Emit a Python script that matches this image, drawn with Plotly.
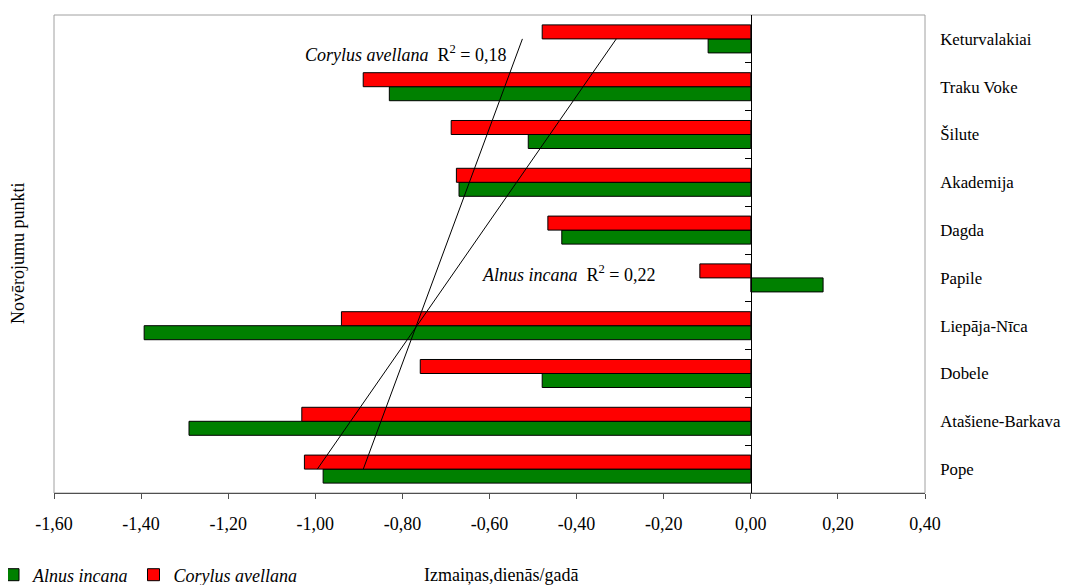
import numpy as np
import plotly.graph_objects as go

categories = ["Pope", "Atašiene-Barkava", "Dobele", "Liepāja-Nīca", "Papile",
              "Dagda", "Akademija", "Šilute", "Traku Voke", "Keturvalakiai"]
alnus = [-0.982, -1.290, -0.479, -1.393, 0.166, -0.434, -0.670, -0.511, -0.830, -0.098]
corylus = [-1.025, -1.031, -0.759, -0.940, -0.117, -0.466, -0.676, -0.688, -0.890, -0.479]
x_ticks = [-1.6, -1.4, -1.2, -1.0, -0.8, -0.6, -0.4, -0.2, 0.0, 0.2, 0.4]
x_ticktext = [("%.2f" % v).replace(".", ",") for v in x_ticks]
r2_alnus = "0,22"
r2_corylus = "0,18"

FONT = "Liberation Serif, Times New Roman, DejaVu Serif, serif"
FS = 18
idx = np.arange(1, len(categories) + 1)
fit_a = np.polyval(np.polyfit(idx, alnus, 1), idx)
fit_c = np.polyval(np.polyfit(idx, corylus, 1), idx)

fig = go.Figure()
fig.add_trace(go.Bar(y=categories, x=alnus, orientation="h", name="<i>Alnus incana</i>",
                     marker=dict(color="#008000", line=dict(color="black", width=1))))
fig.add_trace(go.Bar(y=categories, x=corylus, orientation="h", name="<i>Corylus avellana</i>",
                     marker=dict(color="#FF0000", line=dict(color="black", width=1))))
fig.add_trace(go.Scatter(y=categories, x=fit_c, mode="lines", showlegend=False,
                         line=dict(color="black", width=1), hoverinfo="skip"))
fig.add_trace(go.Scatter(y=categories, x=fit_a, mode="lines", showlegend=False,
                         line=dict(color="black", width=1), hoverinfo="skip"))

# page offset (body margin) compensation
OX, OY = 8, 8
W, H = 1072, 585
PL, PT, PR, PB = 54, 15, 925, 493  # target plot-area box in page pixels
L, T = PL - OX, PT - OY
R, B = W - (PR - OX), H - (PB - OY)
pw, ph = PR - PL, PB - PT


def px(x):
    return (x - PL) / pw


def py(y):
    return (PB - y) / ph


fig.update_layout(
    width=W, height=H,
    margin=dict(l=L, r=R, t=T, b=B, autoexpand=False),
    plot_bgcolor="white", paper_bgcolor="white",
    barmode="group", bargap=0.414, bargroupgap=0,
    font=dict(family=FONT, size=FS, color="black"),
    showlegend=True,
    legend=dict(orientation="h", xref="paper", yref="paper",
                x=px(-7), xanchor="left", y=py(575), yanchor="middle",
                font=dict(family=FONT, size=FS), itemwidth=30,
                bgcolor="rgba(0,0,0,0)", traceorder="normal"),
    xaxis=dict(range=[-1.6, 0.4], tickvals=x_ticks, ticktext=x_ticktext,
               showgrid=False, zeroline=False, showline=True, linecolor="#505050",
               linewidth=1, ticks="outside", ticklen=5, tickcolor="#505050",
               ticklabelstandoff=9, tickfont=dict(family=FONT, size=FS),
               automargin=False),
    yaxis=dict(type="category", range=[-0.5, 9.5], side="right", anchor="free",
               position=1.6 / 2.0, showline=True, linecolor="black", linewidth=1,
               ticks="inside", ticklen=6, tickcolor="black", tickson="boundaries",
               showgrid=False, zeroline=False, ticklabelstandoff=185,
               tickfont=dict(family=FONT, size=16.8), automargin=False),
    shapes=[dict(type="rect", xref="paper", yref="paper", x0=0, x1=1, y0=0, y1=1,
                 line=dict(color="#a0a0a0", width=1), layer="below")],
    annotations=[
        dict(text="<i>Corylus avellana</i>  R<sup>2</sup> = " + r2_corylus, xref="paper", yref="paper",
             x=px(303), y=py(53), xanchor="left", yanchor="middle",
             showarrow=False, font=dict(family=FONT, size=FS)),
        dict(text="<i>Alnus incana</i>  R<sup>2</sup> = " + r2_alnus, xref="paper", yref="paper",
             x=px(480), y=py(273), xanchor="left", yanchor="middle",
             showarrow=False, font=dict(family=FONT, size=FS)),
        dict(text="Novērojumu punkti", xref="paper", yref="paper",
             x=px(18), y=py(253), xanchor="center", yanchor="middle",
             textangle=-90, showarrow=False, font=dict(family=FONT, size=FS)),
        dict(text="Izmaiņas,dienās/gadā", xref="paper", yref="paper",
             x=px(422), y=py(575), xanchor="left", yanchor="middle",
             showarrow=False, font=dict(family=FONT, size=FS)),
    ],
)

fig.write_html("out.html")
